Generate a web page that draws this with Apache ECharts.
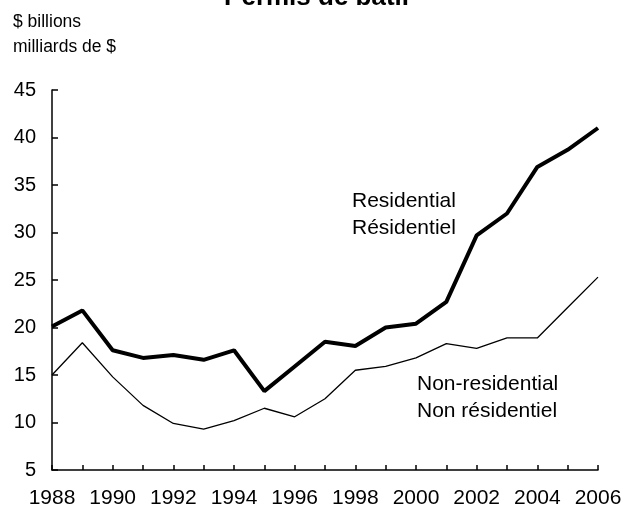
<!DOCTYPE html>
<html>
<head>
<meta charset="utf-8">
<script src="https://cdn.jsdelivr.net/npm/echarts@6/dist/echarts.min.js"></script>
<style>
  html, body { margin: 0; padding: 0; background: #fff; }
  #chart { width: 636px; height: 505px; }
</style>
</head>
<body>
<div id="chart"></div>
<script>
// data
var years = ['1988','1989','1990','1991','1992','1993','1994','1995','1996','1997',
             '1998','1999','2000','2001','2002','2003','2004','2005','2006'];
var residential = [20.1, 21.8, 17.6, 16.8, 17.1, 16.6, 17.6, 13.3, 15.9, 18.5,
                   18.05, 20.0, 20.4, 22.7, 29.7, 32.0, 36.9, 38.7, 41.0];
var nonResidential = [15.0, 18.4, 14.8, 11.8, 9.9, 9.3, 10.2, 11.5, 10.6, 12.5,
                      15.5, 15.9, 16.8, 18.3, 17.8, 18.9, 18.9, 22.1, 25.3];

var font = 'Liberation Sans, Arial, Helvetica, sans-serif';

var myChart = echarts.init(document.getElementById('chart'));
myChart.setOption({
  animation: false,
  backgroundColor: '#fff',
  title: {
    text: 'Permis de bâtir',
    left: 'center',
    top: -20,
    textStyle: { fontFamily: font, fontSize: 26, fontWeight: 'bold', color: '#000' }
  },
  grid: { left: 52, right: 38, top: 90, bottom: 35, outerBoundsMode: 'none', containLabel: false },
  xAxis: {
    type: 'category',
    data: years,
    boundaryGap: false,
    axisLine: { lineStyle: { color: '#000', width: 1.5 } },
    axisTick: { inside: true, length: 5, interval: 0, lineStyle: { color: '#000', width: 1.5 } },
    axisLabel: { interval: 1, margin: 18, color: '#000', fontFamily: font, fontSize: 21 },
    splitLine: { show: false }
  },
  yAxis: {
    type: 'value',
    min: 5, max: 45, interval: 5,
    axisLine: { show: true, lineStyle: { color: '#000', width: 1.5 } },
    axisTick: { show: true, inside: true, length: 6, lineStyle: { color: '#000', width: 1.5 } },
    axisLabel: { margin: 16, color: '#000', fontFamily: font, fontSize: 20 },
    splitLine: { show: false }
  },
  graphic: [
    { type: 'text', left: 13, top: 13, style: { text: '$ billions', fill: '#000', font: '17.5px ' + font } },
    { type: 'text', left: 13, top: 38, style: { text: 'milliards de $', fill: '#000', font: '17.5px ' + font } },
    { type: 'text', left: 352, top: 188, style: { text: 'Residential\nRésidentiel', fill: '#000', font: '21px ' + font, lineHeight: 27 } },
    { type: 'text', left: 417, top: 371, style: { text: 'Non-residential\nNon résidentiel', fill: '#000', font: '21px ' + font, lineHeight: 27 } }
  ],
  series: [
    {
      name: 'Residential',
      type: 'line',
      data: residential,
      showSymbol: false,
      lineStyle: { color: '#000', width: 4 }
    },
    {
      name: 'Non-residential',
      type: 'line',
      data: nonResidential,
      showSymbol: false,
      lineStyle: { color: '#000', width: 1.3 }
    }
  ]
});
</script>
</body>
</html>
